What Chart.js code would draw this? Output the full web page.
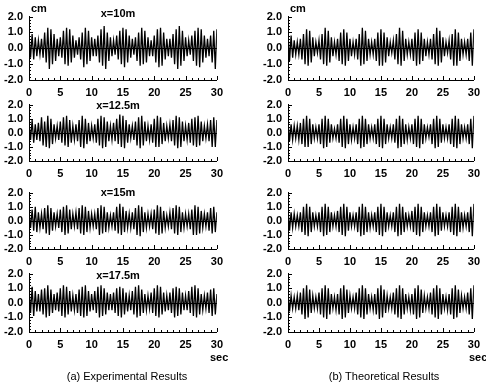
<!DOCTYPE html>
<html><head><meta charset="utf-8">
<script src="https://cdn.jsdelivr.net/npm/chart.js@4.4.1/dist/chart.umd.min.js"></script>
<style>
html,body{margin:0;padding:0;background:#fff;width:486px;height:384px;overflow:hidden;position:relative;font-family:"Liberation Sans",Arial,sans-serif;color:#000}
canvas{position:absolute}
.t{position:absolute;font-size:11px;white-space:nowrap;line-height:11px}
.b{font-weight:bold}
</style></head><body>
<div id="root"></div>
<script>
// ---- data (cm), sampled every SAMPLE_DT seconds from t = 0 to 30 s ----
const SAMPLE_DT = 0.25;
const xTickLabels = ['0','5','10','15','20','25','30'];
const yTickLabels = ['-2.0','-1.0','0.0','1.0','2.0'];
const panelTitles = ['x=10m','x=12.5m','x=15m','x=17.5m'];
const captions = ['(a) Experimental Results','(b) Theoretical Results'];
const unitY = 'cm';
const unitX = 'sec';

const expX10 = [0.8,-0.6,0.9,-0.7,0.7,-0.5,
 0.5,-0.4,0.6,-0.6,1.0,-0.9,1.3,-1.3,1.2,-1.0,0.9,-0.8,
 0.6,-0.5,0.7,-0.6,1.1,-1.0,1.3,-1.1,1.2,-0.9,0.8,-0.6,
 0.5,-0.4,0.7,-0.7,1.0,-1.2,1.3,-1.0,1.1,-0.8,0.7,-0.5,
 0.6,-0.5,0.8,-0.9,1.2,-1.1,1.4,-1.3,1.0,-0.8,0.7,-0.5,
 0.5,-0.4,0.8,-0.7,1.1,-1.0,1.3,-1.2,1.2,-0.9,0.8,-0.6,
 0.6,-0.4,0.7,-0.8,1.0,-1.1,1.3,-1.0,1.1,-0.9,0.7,-0.5,
 0.5,-0.5,0.8,-0.9,1.2,-1.2,1.3,-1.1,1.0,-0.7,0.6,-0.5,
 0.6,-0.6,0.9,-1.0,1.2,-1.3,1.4,-1.1,1.1,-0.8,0.7,-0.5,
 0.5,-0.4,0.8,-0.8,1.1,-1.1,1.3,-1.2,1.2,-0.9,0.8,-0.6,
 0.6,-0.5,0.8,-0.9,1.1,-1.3,1.2];
const expX125 = [0.7,-0.5,0.9,-0.7,0.6,-0.5,
 0.7,-0.6,1.1,-0.9,0.8,-1.0,1.2,-1.1,1.0,-0.8,0.6,-0.4,
 0.5,-0.5,0.8,-0.7,1.1,-0.9,1.2,-1.0,0.9,-0.7,0.5,-0.5,
 0.6,-0.6,0.9,-1.0,1.2,-1.1,1.0,-0.8,0.7,-0.6,0.5,-0.4,
 0.6,-0.7,1.0,-0.9,1.2,-1.1,1.1,-1.0,0.8,-0.6,0.5,-0.5,
 0.7,-0.6,1.0,-0.8,1.3,-1.0,1.2,-1.1,0.9,-0.7,0.6,-0.4,
 0.5,-0.5,0.8,-0.9,1.1,-1.1,1.2,-0.9,0.8,-0.6,0.5,-0.5,
 0.6,-0.7,1.0,-1.0,1.2,-1.0,1.1,-0.8,0.7,-0.6,0.5,-0.4,
 0.6,-0.6,0.9,-0.9,1.2,-1.1,1.1,-1.0,0.8,-0.6,0.5,-0.5,
 0.7,-0.7,1.0,-0.9,1.1,-1.0,1.2,-0.9,0.8,-0.6,0.5,-0.4,
 0.6,-0.6,0.9,-1.0,1.1,-1.0,0.9];
const expX15 = [0.6,-0.5,0.8,-0.7,1.0,-0.8,
 0.6,-0.5,0.5,-0.6,0.9,-0.9,1.1,-1.0,0.9,-0.7,0.6,-0.4,
 0.5,-0.5,0.8,-0.8,1.0,-1.0,1.1,-0.9,0.8,-0.6,0.5,-0.4,
 0.6,-0.6,0.9,-0.9,1.1,-1.0,1.0,-0.8,0.7,-0.5,0.5,-0.4,
 0.5,-0.6,0.9,-1.0,1.1,-0.9,1.0,-0.8,0.6,-0.5,0.4,-0.4,
 0.6,-0.7,1.0,-0.9,1.2,-1.0,1.0,-0.8,0.7,-0.5,0.5,-0.5,
 0.6,-0.6,0.9,-1.0,1.1,-1.1,1.0,-0.8,0.6,-0.5,0.5,-0.4,
 0.5,-0.6,0.8,-0.9,1.1,-1.0,1.0,-0.9,0.7,-0.5,0.4,-0.4,
 0.6,-0.6,0.9,-0.9,1.1,-1.0,1.0,-0.8,0.6,-0.5,0.5,-0.4,
 0.5,-0.6,0.8,-1.0,1.1,-1.0,1.0,-0.9,0.7,-0.5,0.5,-0.4,
 0.6,-0.7,0.9,-0.9,1.0,-0.8,0.6];
const expX175 = [0.9,-0.7,1.1,-0.9,0.8,-0.6,
 0.6,-0.6,0.9,-0.8,1.0,-1.0,1.2,-0.9,0.9,-0.7,0.6,-0.5,
 0.7,-0.6,1.0,-0.9,1.2,-1.0,1.1,-0.8,0.8,-0.6,0.5,-0.5,
 0.6,-0.7,0.9,-0.9,1.1,-1.0,1.2,-0.9,0.8,-0.6,0.6,-0.5,
 0.8,-0.7,1.1,-1.0,1.2,-0.9,1.0,-0.8,0.7,-0.5,0.6,-0.5,
 0.7,-0.7,1.0,-0.9,1.1,-1.0,1.0,-0.8,0.7,-0.6,0.5,-0.5,
 0.8,-0.8,1.1,-1.0,1.2,-0.9,0.9,-0.7,0.6,-0.5,0.5,-0.4,
 0.7,-0.7,1.0,-0.9,1.2,-1.0,1.1,-0.8,0.7,-0.6,0.5,-0.5,
 0.7,-0.7,1.0,-1.0,1.1,-0.9,1.0,-0.8,0.7,-0.5,0.5,-0.5,
 0.8,-0.7,1.1,-0.9,1.2,-1.0,1.0,-0.8,0.6,-0.5,0.5,-0.4,
 0.7,-0.7,0.9,-0.9,1.0,-0.8,0.6];

const theoX10 = [0.9,-0.8,0.8,-0.6,0.5,-0.4,
 0.4,-0.4,0.6,-0.7,0.9,-1.0,1.2,-1.1,1.1,-0.9,0.7,-0.5,
 0.4,-0.3,0.5,-0.7,0.9,-1.0,1.3,-1.1,1.1,-0.9,0.7,-0.5,
 0.4,-0.4,0.6,-0.8,1.0,-1.0,1.2,-1.1,1.0,-0.8,0.6,-0.5,
 0.4,-0.4,0.6,-0.7,0.9,-1.1,1.3,-1.0,1.1,-0.8,0.6,-0.4,
 0.4,-0.4,0.6,-0.8,1.0,-1.1,1.2,-1.1,1.0,-0.9,0.7,-0.5,
 0.4,-0.3,0.5,-0.7,0.9,-1.0,1.3,-1.1,1.1,-0.8,0.6,-0.4,
 0.4,-0.4,0.6,-0.8,1.0,-1.1,1.2,-1.0,1.0,-0.8,0.6,-0.5,
 0.4,-0.4,0.6,-0.7,0.9,-1.0,1.3,-1.1,1.1,-0.9,0.7,-0.5,
 0.4,-0.3,0.5,-0.7,0.9,-1.1,1.2,-1.1,1.0,-0.8,0.6,-0.4,
 0.4,-0.4,0.6,-0.8,1.0,-1.1,1.2];
const theoX125 = [0.8,-0.6,0.6,-0.5,0.5,-0.4,
 0.5,-0.5,0.7,-0.8,1.0,-1.0,1.2,-1.0,1.0,-0.8,0.6,-0.4,
 0.4,-0.4,0.6,-0.8,1.0,-1.1,1.2,-1.0,1.0,-0.7,0.6,-0.4,
 0.3,-0.4,0.6,-0.7,1.0,-1.0,1.2,-1.1,1.0,-0.8,0.6,-0.5,
 0.4,-0.4,0.6,-0.8,1.0,-1.1,1.2,-1.0,1.0,-0.8,0.6,-0.4,
 0.4,-0.4,0.6,-0.8,1.0,-1.0,1.2,-1.1,1.0,-0.8,0.6,-0.4,
 0.4,-0.4,0.6,-0.7,1.0,-1.1,1.2,-1.0,1.0,-0.8,0.6,-0.5,
 0.4,-0.4,0.6,-0.8,1.0,-1.0,1.2,-1.1,1.0,-0.8,0.6,-0.4,
 0.4,-0.3,0.6,-0.8,1.0,-1.1,1.2,-1.0,1.0,-0.7,0.6,-0.4,
 0.4,-0.4,0.6,-0.8,1.0,-1.0,1.2,-1.1,1.0,-0.8,0.6,-0.4,
 0.4,-0.4,0.6,-0.8,1.0,-1.1,1.2];
const theoX15 = [0.8,-0.7,0.6,-0.5,0.5,-0.4,
 0.4,-0.4,0.6,-0.8,1.0,-1.0,1.2,-1.1,1.0,-0.8,0.6,-0.4,
 0.4,-0.4,0.6,-0.8,1.0,-1.1,1.2,-1.0,1.0,-0.8,0.6,-0.4,
 0.4,-0.4,0.7,-0.8,1.0,-1.0,1.2,-1.1,1.0,-0.7,0.6,-0.4,
 0.4,-0.4,0.6,-0.8,1.0,-1.1,1.2,-1.0,1.0,-0.8,0.6,-0.5,
 0.4,-0.4,0.6,-0.8,1.0,-1.0,1.2,-1.1,1.0,-0.8,0.6,-0.4,
 0.4,-0.4,0.6,-0.8,1.0,-1.1,1.2,-1.0,1.0,-0.8,0.6,-0.4,
 0.4,-0.4,0.7,-0.8,1.0,-1.0,1.2,-1.1,1.0,-0.8,0.6,-0.4,
 0.4,-0.4,0.6,-0.8,1.0,-1.1,1.2,-1.0,1.0,-0.7,0.6,-0.4,
 0.4,-0.4,0.6,-0.8,1.0,-1.0,1.2,-1.1,1.0,-0.8,0.6,-0.5,
 0.4,-0.4,0.6,-0.8,1.0,-1.1,1.2];
const theoX175 = [0.7,-0.6,0.5,-0.4,0.4,-0.4,
 0.5,-0.5,0.7,-0.8,1.0,-1.1,1.2,-1.0,0.9,-0.7,0.5,-0.4,
 0.4,-0.4,0.7,-0.8,1.0,-1.0,1.2,-1.1,1.0,-0.8,0.6,-0.4,
 0.4,-0.5,0.6,-0.8,1.0,-1.1,1.2,-1.0,0.9,-0.7,0.5,-0.4,
 0.4,-0.4,0.7,-0.8,1.0,-1.0,1.2,-1.1,1.0,-0.8,0.6,-0.4,
 0.4,-0.5,0.6,-0.8,1.0,-1.1,1.2,-1.0,0.9,-0.7,0.5,-0.4,
 0.4,-0.4,0.7,-0.8,1.0,-1.0,1.2,-1.1,1.0,-0.8,0.6,-0.4,
 0.4,-0.5,0.6,-0.8,1.0,-1.1,1.2,-1.0,0.9,-0.7,0.5,-0.4,
 0.4,-0.4,0.7,-0.8,1.0,-1.0,1.2,-1.1,1.0,-0.8,0.6,-0.4,
 0.4,-0.5,0.6,-0.8,1.0,-1.1,1.2,-1.0,0.9,-0.7,0.5,-0.4,
 0.4,-0.4,0.7,-0.8,1.0,-1.1,1.2];

const experimental = [expX10, expX125, expX15, expX175];
const theoretical = [theoX10, theoX125, theoX15, theoX175];

// ---- layout (pixels) ----
const rows = [[14,80],[102,161],[190,249],[271,332]];
const cols = [[29,222],[288,479]];
const Y_AXIS_W = 29, X_AXIS_H = 18, PAD_TOP = 10, PAD_RIGHT = 7;
const FONT = {family:'"Liberation Sans", Arial, sans-serif', size:11, weight:'bold'};

const inwardTicks = {
  id:'inwardTicks',
  afterDatasetsDraw(chart){
    const {ctx, chartArea:a, scales:{x,y}} = chart;
    ctx.save();
    ctx.strokeStyle = '#000'; ctx.lineWidth = 1;
    ctx.beginPath();
    x.ticks.forEach(t=>{
      const px = Math.round(x.getPixelForValue(t.value)) + 0.5;
      const len = (t.value % 5 === 0) ? 4 : 2;
      ctx.moveTo(px, a.bottom); ctx.lineTo(px, a.bottom - len);
    });
    y.ticks.forEach(t=>{
      const py = Math.round(y.getPixelForValue(t.value)) + 0.5;
      const major = Math.abs(t.value - Math.round(t.value)) < 1e-6;
      ctx.moveTo(a.left, py); ctx.lineTo(a.left + (major ? 4 : 2), py);
    });
    const z = Math.round(y.getPixelForValue(0)) + 0.5;
    ctx.moveTo(a.left, z); ctx.lineTo(a.right, z);
    ctx.stroke();
    ctx.restore();
  }
};

const body = document.body;
function addText(txt, left, top, center, bold){
  const d = document.createElement('div');
  d.className = 't' + (bold ? ' b' : ''); d.textContent = txt;
  d.style.left = left + 'px'; d.style.top = top + 'px';
  if (center) d.style.transform = 'translateX(-50%)';
  body.appendChild(d);
}

function makePanel(values, col, row){
  const c = cols[col], r = rows[row];
  const cv = document.createElement('canvas');
  const w = (c[1]-c[0]) + Y_AXIS_W + PAD_RIGHT;
  const h = (r[1]-r[0]) + PAD_TOP + X_AXIS_H;
  cv.width = w; cv.height = h;
  cv.style.left = (c[0]-Y_AXIS_W) + 'px';
  cv.style.top = (r[0]-PAD_TOP) + 'px';
  cv.style.width = w + 'px'; cv.style.height = h + 'px';
  body.appendChild(cv);
  const times = values.map((_, i) => i * SAMPLE_DT);
  new Chart(cv, {
    type:'line',
    data:{labels:times, datasets:[{data:values, borderColor:'#000', borderWidth:1.3, pointRadius:0, tension:0, fill:false}]},
    options:{
      responsive:false, animation:false, devicePixelRatio:1, events:[],
      layout:{padding:{top:PAD_TOP, right:PAD_RIGHT, left:0, bottom:0}},
      plugins:{legend:{display:false}, tooltip:{enabled:false}},
      scales:{
        x:{type:'linear', min:0, max:30,
           afterFit(s){ s.height = X_AXIS_H; },
           grid:{display:true, drawOnChartArea:false, drawTicks:false},
           border:{display:true, color:'#000', width:1},
           ticks:{stepSize:1, autoSkip:false, maxRotation:0, padding:6, color:'#000', font:FONT,
                  callback:(v)=> (v % 5 === 0 ? xTickLabels[v/5] : '')}},
        y:{type:'linear', min:-2, max:2,
           afterFit(s){ s.width = Y_AXIS_W; },
           grid:{display:true, drawOnChartArea:false, drawTicks:false},
           border:{display:true, color:'#000', width:1},
           ticks:{stepSize:0.2, autoSkip:false, padding:6, color:'#000', font:FONT,
                  callback:(v)=>{ const k = Math.round(v); return Math.abs(v-k) < 1e-6 ? yTickLabels[k+2] : ''; }}}
      }
    },
    plugins:[inwardTicks]
  });
}

for (let r = 0; r < 4; r++){
  makePanel(experimental[r], 0, r);
  makePanel(theoretical[r], 1, r);
}

// texts
addText(unitY, 31, 3, false, true);
addText(unitY, 290, 3, false, true);
const titleTops = [8, 100, 187, 270];
panelTitles.forEach((t, i) => addText(t, 118, titleTops[i], true, true));
addText(unitX, 210, 352, false, true);
addText(unitX, 469, 352, false, true);
addText(captions[0], 127, 371, true, false);
addText(captions[1], 384, 371, true, false);
</script>
</body></html>
